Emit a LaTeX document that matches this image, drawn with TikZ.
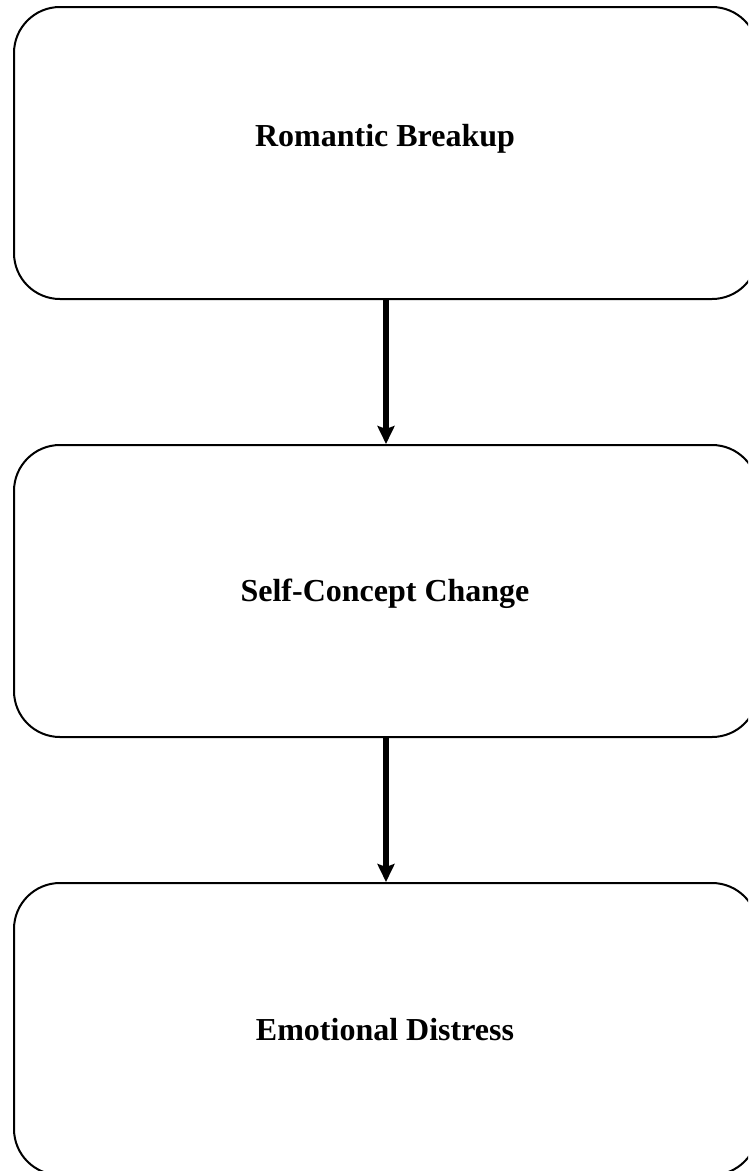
\documentclass[tikz,border=0pt]{standalone}
\usepackage{fontspec}
\setmainfont{Liberation Serif}
\usetikzlibrary{arrows.meta}
\tikzset{
  box/.style={draw=black, line width=2pt, rounded corners=46pt, minimum width=744pt, minimum height=292pt, inner sep=0pt},
  lbl/.style={anchor=base, inner sep=0pt, font=\fontsize{32}{38}\selectfont\bfseries},
  flow/.style={line width=5.5pt, -{Stealth[length=18pt,width=17pt,inset=3pt]}}
}
\begin{document}
\begin{tikzpicture}[x=1pt,y=-1pt]
\useasboundingbox (0,0) rectangle (748,1171);
\clip (0,0) rectangle (748,1171);
\node[box] (b1) at (386,153) {};
\node[box] (b2) at (386,591) {};
\node[box] (b3) at (386,1029) {};
\node[lbl] (t1) at (385,146) {Romantic Breakup};
\node[lbl] (t2) at (385,601) {Self-Concept Change};
\node[lbl] (t3) at (385,1040) {Emotional Distress};
\draw[flow] (b1.south) -- (b2.north);
\draw[flow] (b2.south) -- (b3.north);
\end{tikzpicture}
\end{document}
